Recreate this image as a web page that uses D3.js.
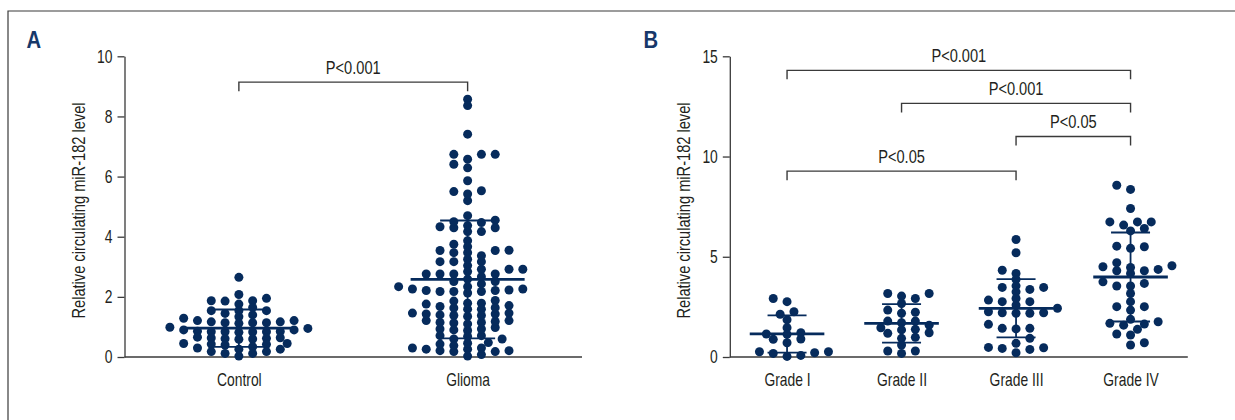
<!DOCTYPE html>
<html>
<head>
<meta charset="utf-8">
<script src="https://cdn.jsdelivr.net/npm/d3@7"></script>
<style>
  body { margin: 0; background: #fff; }
  svg { display: block; }
</style>
</head>
<body>
<div id="chart"></div>
<script>
// values
var controlValues = [2.65, 2.08, 1.95, 1.87, 1.87, 1.86, 1.76, 1.65, 1.54, 1.54, 1.54, 1.45, 1.40,
  1.34, 1.29, 1.21, 1.21, 1.17, 1.17, 1.14, 1.14, 1.14, 1.12, 0.99, 0.95, 0.90, 0.90,
  0.84, 0.85, 0.83, 0.84, 0.86, 0.82, 0.84, 0.62, 0.60, 0.64, 0.66, 0.61, 0.59, 0.63,
  0.45, 0.42, 0.43, 0.40, 0.45, 0.34, 0.30, 0.26, 0.18, 0.12, 0.03, 0.12, 0.18, 0.26];

var gradeI = [2.92, 2.76, 2.26, 2.13, 1.86, 1.46, 1.13, 1.15, 1.21, 0.88, 0.90, 0.71,
  0.26, 0.26, 0.03, 0.21, 0.08, 0.18];
var gradeII = [3.17, 2.92, 2.67, 3.04, 3.17, 2.34, 2.23, 2.18, 1.79, 1.59, 1.71, 1.79,
  1.38, 1.46, 1.21, 1.35, 0.98, 0.93, 1.18, 0.60, 0.30, 0.18, 0.30];
var gradeIII = [5.86, 5.20, 4.33, 4.17, 3.87, 3.47, 3.25, 3.55, 3.37, 3.47, 2.76, 2.59,
  2.92, 2.84, 2.76, 2.43, 2.21, 2.21, 2.18, 2.18, 2.26, 1.63, 1.43, 1.43, 1.40, 0.93,
  0.68, 0.46, 0.43, 0.21, 0.38, 0.48];
var gradeIV = [8.57, 8.36, 7.41, 6.74, 6.58, 6.74, 6.74, 6.41, 6.29, 5.50, 5.42, 5.53,
  4.47, 4.30, 4.55, 4.17, 4.50, 4.30, 4.70, 4.37, 3.67, 3.54, 3.54, 3.75, 3.17, 2.51,
  2.34, 2.51, 2.76, 1.68, 1.59, 1.88, 1.64, 1.76, 1.10, 1.15, 1.38, 0.60, 0.71];
// glioma group = all graded samples
var gliomaValues = [].concat(gradeI, gradeII, gradeIII, gradeIV);

var categoriesA = ["Control", "Glioma"];
var seriesA = [controlValues, gliomaValues];
var meansA = [0.96, 2.58];
var sdA = [0.62, 1.96];
var ticksA = [0, 2, 4, 6, 8, 10];
var bracketsA = [{from: "Control", to: "Glioma", level: 9.14, label: "P<0.001"}];

var categoriesB = ["Grade I", "Grade II", "Grade III", "Grade IV"];
var seriesB = [gradeI, gradeII, gradeIII, gradeIV];
var meansB = [1.15, 1.68, 2.43, 3.99];
var sdB = [0.93, 0.96, 1.45, 2.22];
var ticksB = [0, 5, 10, 15];
var bracketsB = [
  {from: "Grade I", to: "Grade IV", level: 14.3, label: "P<0.001"},
  {from: "Grade II", to: "Grade IV", level: 12.65, label: "P<0.001"},
  {from: "Grade III", to: "Grade IV", level: 11.0, label: "P<0.05"},
  {from: "Grade I", to: "Grade III", level: 9.27, label: "P<0.05"}
];

// condensed look: Liberation Sans squeezed horizontally
var FONT = '"Liberation Sans", Arial, sans-serif';
var SQUEEZE = 0.77;
var NAVY = "#062b5c";
var INK = "#231f20";

var svg = d3.select("#chart").append("svg")
    .attr("width", 1235)
    .attr("height", 420);

svg.append("rect").attr("width", 1235).attr("height", 420).attr("fill", "#fff");

// outer frame (only top and left edges are inside the picture)
svg.append("path")
    .attr("d", "M8,420 V11 H1235")
    .attr("fill", "none")
    .attr("stroke", "#3a3a3a")
    .attr("stroke-width", 1.2);

// quantised beeswarm in the style of Prism's scatter dot plot:
// horizontal slots of half a column, elliptical "no overlap" zone
function swarm(values, y, step, ax, by) {
  var order = d3.range(values.length).sort(function(a, b) { return values[a] - values[b]; });
  var placed = [];
  var out = new Array(values.length);
  var flip = 1;
  order.forEach(function(i) {
    var py = y(values[i]);
    for (var k = 0; k < 40; k++) {
      var cands = k === 0 ? [0] : [k * flip, -k * flip];
      var found = null;
      for (var c = 0; c < cands.length; c++) {
        var px = cands[c] * step;
        var ok = placed.every(function(p) {
          var dx = (p.x - px) / ax, dy = (p.y - py) / by;
          return dx * dx + dy * dy >= 0.999;
        });
        if (ok) { found = px; break; }
      }
      if (found !== null) {
        if (found !== 0) flip = -flip;
        placed.push({x: found, y: py});
        out[i] = found;
        break;
      }
    }
  });
  return out;
}

function drawPanel(o) {
  var g = svg.append("g");

  var x = d3.scalePoint()
      .domain(o.categories)
      .range([o.left, o.right])
      .padding(0.5);
  var y = d3.scaleLinear()
      .domain([0, o.ticks[o.ticks.length - 1]])
      .range([357, 56.3]);

  // panel letter
  g.append("text")
      .attr("transform", "translate(" + o.letterX + ",47.5) scale(0.88,1)")
      .attr("font-family", FONT)
      .attr("font-weight", "bold")
      .attr("font-size", "23px")
      .attr("fill", "#17386a")
      .text(o.letter);

  // y axis
  var yAxis = g.append("g")
      .attr("transform", "translate(" + o.left + ",0)")
      .call(d3.axisLeft(y).tickValues(o.ticks).tickSize(7).tickSizeOuter(0).tickPadding(5));
  yAxis.select(".domain").attr("stroke", "#3a3a3a").attr("stroke-width", 1.3);
  yAxis.selectAll(".tick line").attr("stroke", "#3a3a3a").attr("stroke-width", 1.3);
  yAxis.selectAll(".tick text")
      .attr("x", -12 / SQUEEZE)
      .attr("transform", "scale(" + SQUEEZE + ",1)")
      .attr("font-family", FONT)
      .attr("font-size", "18px")
      .attr("fill", INK);

  // x axis
  var xAxis = g.append("g")
      .attr("transform", "translate(0," + y(0) + ")")
      .call(d3.axisBottom(x).tickSize(0).tickSizeOuter(0).tickPadding(16));
  xAxis.select(".domain")
      .attr("d", "M" + o.left + ",0H" + o.right)
      .attr("stroke", "#3a3a3a").attr("stroke-width", 1.3);
  xAxis.selectAll(".tick text")
      .attr("transform", "scale(" + SQUEEZE + ",1)")
      .attr("font-family", FONT)
      .attr("font-size", "18px")
      .attr("fill", INK);

  // y title
  g.append("text")
      .attr("transform", "translate(" + (o.left - 45.5) + "," + 210.5 + ") rotate(-90) scale(" + SQUEEZE + ",1)")
      .attr("text-anchor", "middle")
      .attr("dominant-baseline", "central")
      .attr("font-family", FONT)
      .attr("font-size", "19px")
      .attr("fill", INK)
      .text("Relative circulating miR-182 level");

  // dots
  o.series.forEach(function(vals, i) {
    var cx = x(o.categories[i]);
    var offs = swarm(vals, y, 6.9, 13.8, 6);
    g.append("g").selectAll("circle")
        .data(vals)
        .join("circle")
        .attr("cx", function(d, j) { return cx + offs[j]; })
        .attr("cy", function(d) { return y(d); })
        .attr("r", 4.5)
        .attr("fill", NAVY);
  });

  // mean and SD
  o.categories.forEach(function(c, i) {
    var cx = x(c), m = o.means[i], s = o.sds[i];
    var lg = g.append("g").attr("stroke", NAVY).attr("fill", "none");
    lg.append("line")
        .attr("x1", cx).attr("x2", cx)
        .attr("y1", y(m + s)).attr("y2", y(Math.max(0, m - s)))
        .attr("stroke-width", 1.8);
    [m + s, m - s].forEach(function(v) {
      lg.append("line")
          .attr("x1", cx - o.sdHalf).attr("x2", cx + o.sdHalf)
          .attr("y1", y(v)).attr("y2", y(v))
          .attr("stroke-width", 1.8);
    });
    lg.append("line")
        .attr("x1", cx - o.meanHalf).attr("x2", cx + o.meanHalf)
        .attr("y1", y(m)).attr("y2", y(m))
        .attr("stroke-width", 2.8);
  });

  // significance brackets
  o.brackets.forEach(function(b) {
    var x1 = x(b.from), x2 = x(b.to), by = y(b.level);
    g.append("path")
        .attr("d", "M" + x1 + "," + (by + 9) + "V" + by + "H" + x2 + "V" + (by + 9))
        .attr("fill", "none")
        .attr("stroke", "#3a3a3a")
        .attr("stroke-width", 1.4);
    g.append("text")
        .attr("transform", "translate(" + ((x1 + x2) / 2) + "," + (by - 8.5) + ") scale(" + SQUEEZE + ",1)")
        .attr("text-anchor", "middle")
        .attr("font-family", FONT)
        .attr("font-size", "19px")
        .attr("fill", INK)
        .text(b.label);
  });
}

drawPanel({
  letter: "A", letterX: 26.5,
  left: 124.5, right: 582,
  categories: categoriesA, series: seriesA,
  means: meansA, sds: sdA, ticks: ticksA, brackets: bracketsA,
  meanHalf: 57, sdHalf: 27.5
});

drawPanel({
  letter: "B", letterX: 643.5,
  left: 729.8, right: 1187.8,
  categories: categoriesB, series: seriesB,
  means: meansB, sds: sdB, ticks: ticksB, brackets: bracketsB,
  meanHalf: 37.3, sdHalf: 19.5
});
</script>
</body>
</html>
